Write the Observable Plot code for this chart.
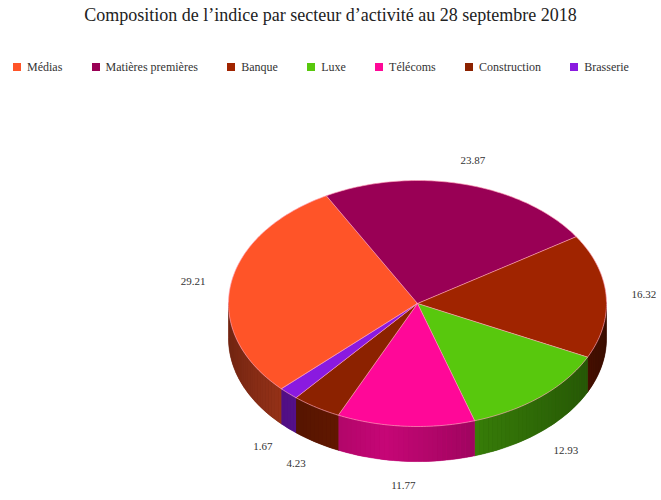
<!DOCTYPE html>
<html>
<head>
<meta charset="utf-8">
<script src="https://cdn.jsdelivr.net/npm/d3@7"></script>
<script src="https://cdn.jsdelivr.net/npm/@observablehq/plot@0.6"></script>
<style>
  body { margin: 0; background: #fff; font-family: "Liberation Serif", "DejaVu Serif", serif; }
  #title { height: 30px; line-height: 30px; text-align: center; font-size: 18px; color: #222; }
  #legend { height: 30px; margin-top: 22px; display: flex; justify-content: space-between; align-items: center;
            padding: 0 32px 0 13px; font-size: 12px; color: #333; box-sizing: border-box; }
  .item { display: flex; align-items: center; white-space: nowrap; }
  .sw { width: 8px; height: 8px; margin-right: 6px; display: inline-block; }
  #chart { margin-top: 3px; }
  #chart svg text { font-family: "Liberation Serif", serif; }
</style>
</head>
<body>
<div id="title">Composition de l’indice par secteur d’activité au 28 septembre 2018</div>
<div id="legend"></div>
<div id="chart"></div>
<script>
const sectors = ["Médias", "Matières premières", "Banque", "Luxe", "Télécoms", "Construction", "Brasserie"];
const weights = [29.21, 23.87, 16.32, 12.93, 11.77, 4.23, 1.67];
const labels = ["29.21", "23.87", "16.32", "12.93", "11.77", "4.23", "1.67"];
const colors = ["#ff5428", "#990055", "#a02400", "#58c80d", "#ff0898", "#8c2200", "#8a1ae0"];

// legend
const legend = document.getElementById("legend");
sectors.forEach((s, i) => {
  const it = document.createElement("div");
  it.className = "item";
  it.innerHTML = `<span class="sw" style="background:${colors[i]}"></span>${s}`;
  legend.appendChild(it);
});

const startAngle = 226;   // degrees, clockwise from top
const depth = 0.285;      // thickness in y units
const total = d3.sum(weights);
const rad = Math.PI / 180;
const shade = (c, deg) => {
  const tn = ((deg % 360) + 360) % 360;
  return d3.color(c).darker(0.7 + 1.8 * Math.abs(tn - 190) / 80).formatHex();
};

const tops = [], sideBase = [], sides = [], labelRows = [];
let cum = 0;
sectors.forEach((s, i) => {
  const a0 = startAngle + cum / total * 360;
  cum += weights[i];
  const a1 = startAngle + cum / total * 360;
  // top face
  const n = Math.max(2, Math.ceil((a1 - a0) / 1));
  tops.push({id: s, x: 0, y: 0, fill: colors[i]});
  for (let k = 0; k <= n; k++) {
    const a = (a0 + (a1 - a0) * k / n) * rad;
    tops.push({id: s, x: Math.sin(a), y: Math.cos(a), fill: colors[i]});
  }
  // side wall: visible part of the outer wall
  const m = Math.max(1, Math.ceil((a1 - a0) / 1.5));
  const vis = [];
  for (let k = 0; k < m; k++) {
    const A = a0 + (a1 - a0) * k / m, B = a0 + (a1 - a0) * (k + 1) / m;
    const mid = (A + B) / 2;
    if (Math.cos(mid * rad) >= 0.02) continue;
    vis.push([A, B]);
    const c = shade(colors[i], mid);
    const id = s + "-" + k;
    const pa = A * rad, pb = B * rad;
    sides.push({id, x: Math.sin(pa), y: Math.cos(pa), fill: c});
    sides.push({id, x: Math.sin(pb), y: Math.cos(pb), fill: c});
    sides.push({id, x: Math.sin(pb), y: Math.cos(pb) - depth, fill: c});
    sides.push({id, x: Math.sin(pa), y: Math.cos(pa) - depth, fill: c});
  }
  if (vis.length) {
    const A = vis[0][0], B = vis[vis.length - 1][1];
    const c = shade(colors[i], (A + B) / 2);
    const pts = [];
    for (let k = 0; k <= vis.length; k++) pts.push(A + (B - A) * k / vis.length);
    pts.forEach(a => sideBase.push({id: s, x: Math.sin(a * rad), y: Math.cos(a * rad), fill: c}));
    pts.slice().reverse().forEach(a => sideBase.push({id: s, x: Math.sin(a * rad), y: Math.cos(a * rad) - depth, fill: c}));
  }
  const mid = ((a0 + a1) / 2) * rad;
  labelRows.push({
    label: labels[i],
    x: 1.2 * Math.sin(mid),
    y: 1.2 * Math.cos(mid) - (Math.cos(mid) < 0 ? depth : 0)
  });
});

const chart = Plot.plot({
  width: 661,
  height: 415,
  margin: 0,
  style: {background: "#fff", overflow: "visible", fontFamily: "'Liberation Serif', serif"},
  x: {domain: [-1, 1], range: [228, 606], axis: null},
  y: {domain: [-1, 1], range: [341, 95], axis: null},
  color: {type: "identity"},
  marks: [
    Plot.line(sideBase, {x: "x", y: "y", z: "id", fill: "fill", stroke: "fill", strokeWidth: 0.5, curve: "linear-closed"}),
    Plot.line(sides, {x: "x", y: "y", z: "id", fill: "fill", curve: "linear-closed"}),
    Plot.line(tops, {x: "x", y: "y", z: "id", fill: "fill", stroke: "#ffa0b8", strokeWidth: 0.8, strokeOpacity: 0.8, curve: "linear-closed"}),
    Plot.text(labelRows, {x: "x", y: "y", text: "label", fontSize: 11, fill: "#333", fontFamily: "'Liberation Serif', serif"})
  ]
});
document.getElementById("chart").appendChild(chart);
</script>
</body>
</html>
